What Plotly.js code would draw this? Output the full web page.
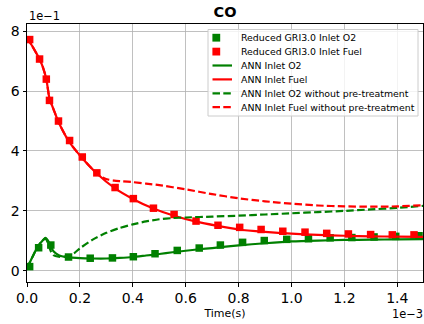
<!DOCTYPE html>
<html>
<head>
<meta charset="utf-8">
<script src="https://cdn.plot.ly/plotly-3.0.1.min.js"></script>
<style>
  html, body { margin: 0; padding: 0; background: #fff; }
  #chart { width: 424px; height: 324px; }
</style>
</head>
<body>
<div id="chart"></div>
<script>
// Time axis values are written in milliseconds, CO values in units of 1e-1.
const TIME_UNIT = 1e-3;
const CO_UNIT = 1e-1;

// Reduced GRI3.0 reference points, inlet O2
const griO2Time = [0.01, 0.044, 0.09, 0.157, 0.239, 0.323, 0.402, 0.484, 0.568, 0.651, 0.731, 0.815, 0.897, 0.982, 1.064, 1.146, 1.228, 1.312, 1.394, 1.482];
const griO2CO   = [0.14, 0.77, 0.86, 0.46, 0.42, 0.43, 0.47, 0.57, 0.68, 0.76, 0.86, 0.95, 1.01, 1.05, 1.07, 1.10, 1.11, 1.13, 1.15, 1.17];

// Reduced GRI3.0 reference points, inlet fuel
const griFuelTime = [0.01, 0.0475, 0.073, 0.085, 0.119, 0.161, 0.209, 0.264, 0.333, 0.402, 0.478, 0.556, 0.639, 0.722, 0.804, 0.885, 0.967, 1.051, 1.133, 1.215, 1.299, 1.381, 1.463];
const griFuelCO   = [7.72, 7.07, 6.40, 5.69, 5.00, 4.35, 3.80, 3.27, 2.78, 2.41, 2.09, 1.88, 1.66, 1.52, 1.45, 1.38, 1.32, 1.29, 1.25, 1.23, 1.21, 1.20, 1.20];

// ANN prediction, inlet O2
const annO2Time = [0, 0.02, 0.04, 0.06, 0.07, 0.08, 0.09, 0.1, 0.12, 0.14, 0.17, 0.2, 0.25, 0.3, 0.35, 0.4, 0.45, 0.5, 0.55, 0.6, 0.65, 0.7, 0.8, 0.9, 1.0, 1.1, 1.2, 1.3, 1.4, 1.5];
const annO2CO   = [0.08, 0.45, 0.8, 1.02, 1.1, 1.0, 0.8, 0.65, 0.52, 0.47, 0.44, 0.42, 0.41, 0.41, 0.43, 0.46, 0.51, 0.56, 0.62, 0.67, 0.72, 0.76, 0.85, 0.92, 0.98, 1.01, 1.03, 1.04, 1.05, 1.06];

// ANN prediction, inlet fuel
const annFuelTime = [0, 0.02, 0.047, 0.06, 0.073, 0.085, 0.1, 0.12, 0.16, 0.21, 0.264, 0.333, 0.4, 0.48, 0.556, 0.64, 0.72, 0.8, 0.9, 1.0, 1.1, 1.2, 1.3, 1.4, 1.5];
const annFuelCO   = [7.78, 7.5, 7.07, 6.8, 6.4, 5.75, 5.4, 4.95, 4.3, 3.75, 3.25, 2.75, 2.4, 2.07, 1.84, 1.64, 1.5, 1.38, 1.3, 1.24, 1.2, 1.17, 1.15, 1.14, 1.13];

// ANN prediction without pre-treatment, inlet O2
const rawO2Time = [0, 0.02, 0.04, 0.06, 0.07, 0.08, 0.09, 0.1, 0.12, 0.14, 0.16, 0.18, 0.2, 0.25, 0.3, 0.35, 0.4, 0.45, 0.5, 0.55, 0.6, 0.7, 0.8, 0.9, 1.0, 1.1, 1.2, 1.3, 1.4, 1.5];
const rawO2CO   = [0.08, 0.45, 0.8, 1.02, 1.08, 0.9, 0.65, 0.52, 0.47, 0.47, 0.5, 0.6, 0.75, 1.05, 1.27, 1.43, 1.55, 1.65, 1.72, 1.76, 1.78, 1.81, 1.84, 1.88, 1.92, 1.96, 2.0, 2.05, 2.1, 2.17];

// ANN prediction without pre-treatment, inlet fuel
const rawFuelTime = [0, 0.02, 0.047, 0.06, 0.073, 0.085, 0.1, 0.12, 0.16, 0.21, 0.264, 0.29, 0.31, 0.33, 0.36, 0.4, 0.45, 0.5, 0.6, 0.7, 0.8, 0.9, 1.0, 1.1, 1.2, 1.3, 1.4, 1.5];
const rawFuelCO   = [7.78, 7.5, 7.07, 6.8, 6.4, 5.75, 5.4, 4.95, 4.3, 3.75, 3.25, 3.1, 3.04, 3.01, 2.99, 2.96, 2.91, 2.86, 2.72, 2.56, 2.42, 2.32, 2.24, 2.18, 2.15, 2.14, 2.15, 2.19];

// Tick labels (scaled by the offset texts)
const xTickLabels = ['0.0', '0.2', '0.4', '0.6', '0.8', '1.0', '1.2', '1.4'];
const yTickLabels = ['0', '2', '4', '6', '8'];

const seriesNames = [
  'Reduced GRI3.0 Inlet O2',
  'Reduced GRI3.0 Inlet Fuel',
  'ANN Inlet O2',
  'ANN Inlet Fuel',
  'ANN Inlet O2 without pre-treatment',
  'ANN Inlet Fuel without pre-treatment'
];

const GREEN = '#008000';
const RED = '#ff0000';
const FONT = 'DejaVu Sans, Verdana, sans-serif';
const DASH = '7.5px,3.3px';

const sec = a => a.map(v => v * TIME_UNIT);
const frac = a => a.map(v => v * CO_UNIT);

const styles = [
  { kind: 'marker', color: GREEN },
  { kind: 'marker', color: RED },
  { kind: 'line', color: GREEN, dash: 'solid' },
  { kind: 'line', color: RED, dash: 'solid' },
  { kind: 'line', color: GREEN, dash: DASH },
  { kind: 'line', color: RED, dash: DASH }
];
const xs = [griO2Time, griFuelTime, annO2Time, annFuelTime, rawO2Time, rawFuelTime];
const ys = [griO2CO, griFuelCO, annO2CO, annFuelCO, rawO2CO, rawFuelCO];

const traces = styles.map((s, i) => {
  const t = {
    x: sec(xs[i]),
    y: frac(ys[i]),
    name: seriesNames[i],
    type: 'scatter',
    showlegend: false,
    cliponaxis: true
  };
  if (s.kind === 'marker') {
    t.mode = 'markers';
    t.marker = { symbol: 'square', size: 7.5, color: s.color, line: { width: 0 } };
  } else {
    t.mode = 'lines';
    t.line = { color: s.color, width: 2.2, dash: s.dash, shape: 'spline', smoothing: 0.6 };
  }
  return t;
});

// Plot area geometry (px) used to place the legend box in paper units
const M = { l: 27, r: 1, t: 24, b: 42 };
const W = 424, H = 324;
const PW = W - M.l - M.r, PH = H - M.t - M.b;
const px2x = px => (px - M.l) / PW;
const py2y = py => (H - M.b - py) / PH;

const shapes = [{
  type: 'rect', xref: 'paper', yref: 'paper', layer: 'above',
  x0: px2x(208), x1: px2x(418), y0: py2y(116), y1: py2y(29.5),
  fillcolor: 'rgba(255,255,255,0.8)',
  line: { color: '#cccccc', width: 1 }
}];
const annotations = [];

styles.forEach((s, i) => {
  const cy = 37.7 + i * 13.9;
  if (s.kind === 'marker') {
    const half = 3.9;
    shapes.push({
      type: 'rect', xref: 'paper', yref: 'paper', layer: 'above',
      x0: px2x(216.3 - half), x1: px2x(216.3 + half),
      y0: py2y(cy + half), y1: py2y(cy - half),
      fillcolor: s.color, line: { width: 0 }
    });
  } else {
    shapes.push({
      type: 'line', xref: 'paper', yref: 'paper', layer: 'above',
      x0: px2x(212.5), x1: px2x(232), y0: py2y(cy), y1: py2y(cy),
      line: { color: s.color, width: 2.2, dash: s.dash }
    });
  }
  annotations.push({
    xref: 'paper', yref: 'paper', x: px2x(238.7), y: py2y(cy),
    xanchor: 'left', yanchor: 'middle', showarrow: false,
    text: seriesNames[i],
    font: { family: FONT, size: 9.4, color: '#000' }
  });
});

// Offset texts for the scaled axes
annotations.push({
  xref: 'paper', yref: 'paper', x: 0, y: py2y(16.5),
  xanchor: 'left', yanchor: 'middle', showarrow: false,
  text: '1e\u22121', font: { family: FONT, size: 11.4, color: '#000' }
});
annotations.push({
  xref: 'paper', yref: 'paper', x: px2x(424.5), y: py2y(314),
  xanchor: 'right', yanchor: 'middle', showarrow: false,
  text: '1e\u22123', font: { family: FONT, size: 11.4, color: '#000' }
});

const axisCommon = {
  showline: true, mirror: true, linecolor: '#000', linewidth: 1,
  ticks: 'outside', ticklen: 3.5, tickwidth: 1, tickcolor: '#000',
  showgrid: true, gridcolor: '#b0b0b0', gridwidth: 0.8,
  zeroline: false,
  tickfont: { family: FONT, size: 14, color: '#000' }
};

const layout = {
  width: W, height: H,
  margin: M,
  paper_bgcolor: '#fff', plot_bgcolor: '#fff',
  showlegend: false,
  title: {
    text: 'CO',
    x: 0.5, xref: 'paper', xanchor: 'center',
    y: (H - 12) / H, yref: 'container', yanchor: 'middle',
    font: { family: FONT, size: 14.5, color: '#000', weight: 'bold' }
  },
  xaxis: Object.assign({}, axisCommon, {
    range: [0, 1.497 * TIME_UNIT],
    tickvals: xTickLabels.map(v => parseFloat(v) * TIME_UNIT),
    ticktext: xTickLabels,
    title: { text: 'Time(s)', standoff: 4, font: { family: FONT, size: 11, color: '#000' } }
  }),
  yaxis: Object.assign({}, axisCommon, {
    range: [-0.374 * CO_UNIT, 8.24 * CO_UNIT],
    tickvals: yTickLabels.map(v => parseFloat(v) * CO_UNIT),
    ticktext: yTickLabels
  }),
  shapes: shapes,
  annotations: annotations
};

Plotly.newPlot('chart', traces, layout, { staticPlot: true, displayModeBar: false });
</script>
</body>
</html>
